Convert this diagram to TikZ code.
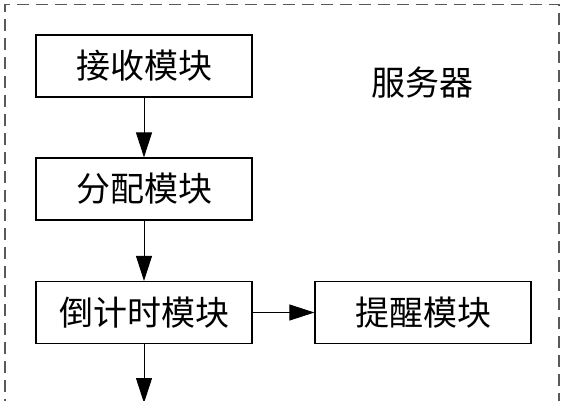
\documentclass[tikz,border=0pt]{standalone}
\usepackage{fontspec}
\setmainfont{Noto Sans CJK SC}
\usetikzlibrary{arrows.meta}
\tikzset{
  modbox/.style={draw=black, line width=1.2pt, minimum width=216pt, minimum height=62pt, inner sep=0pt, font=\fontsize{34pt}{34pt}\selectfont},
  flow/.style={draw=black, line width=1pt, -{Triangle[length=25pt,width=16pt]}},
  frame/.style={draw=black!65, line width=1.2pt, dash pattern=on 12pt off 7pt}
}
\begin{document}
\begin{tikzpicture}[x=1pt,y=-1pt]
\useasboundingbox (0,0) rectangle (564,400);
\clip (0,0) rectangle (564,400);
\draw[frame] (5,430) -- (5,4.5) -- (559,4.5) -- (559,430);
\node[modbox] (recv) at (144,66) {接收模块};
\node[modbox] (alloc) at (144,189) {分配模块};
\node[modbox] (count) at (144,312.5) {倒计时模块};
\node[modbox] (remind) at (423,312.5) {提醒模块};
\node[font=\fontsize{34pt}{34pt}\selectfont] (server) at (422,83) {服务器};
\coordinate (out) at (144,403);
\draw[flow] (recv) -- (alloc);
\draw[flow] (alloc) -- (count);
\draw[flow] (count) -- (remind);
\draw[flow] (count) -- (out);
\end{tikzpicture}
\end{document}
